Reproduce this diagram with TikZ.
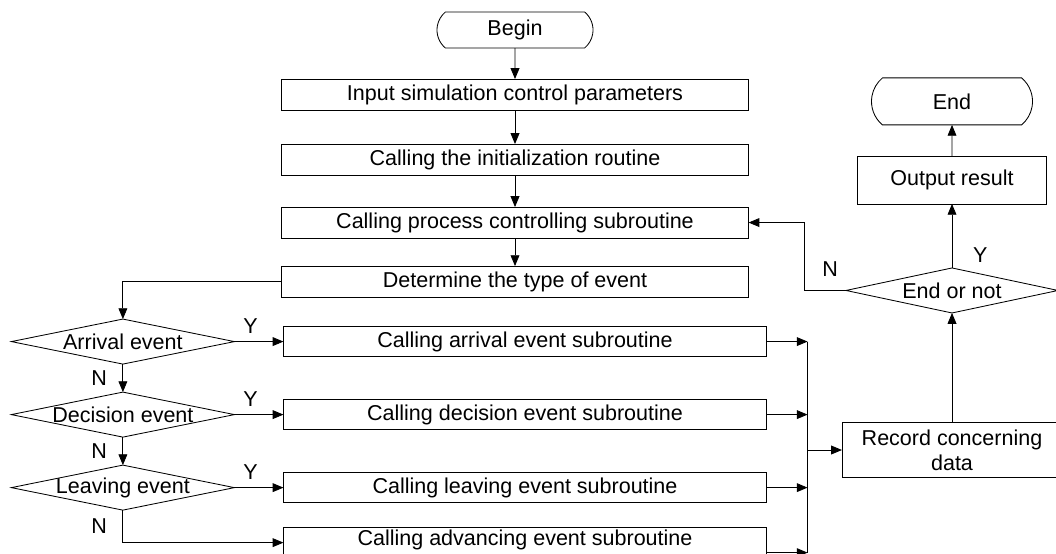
\documentclass[tikz,border=0pt]{standalone}
\usepackage{fontspec}
\setmainfont{Liberation Sans}
\usetikzlibrary{positioning,shapes.geometric,shapes.misc,arrows.meta}

\tikzset{
  every node/.append style={outer sep=0pt},
  term/.style={rounded rectangle, rounded rectangle arc length=100, draw,
    minimum width=3.9cm, minimum height=0.9cm, inner sep=0pt},
  proc/.style={rectangle, draw, minimum width=11.675cm, minimum height=0.775cm, inner sep=0pt},
  sub/.style={rectangle, draw, minimum width=12.075cm, minimum height=0.75cm, inner sep=0pt},
  decide/.style={diamond, draw, minimum width=5.575cm, minimum height=1.125cm, inner sep=0pt},
  arr/.style={-{Triangle[length=0.27cm,width=0.22cm]}},
  yn/.style={inner sep=0.1cm},
}

\begin{document}
\begin{tikzpicture}[x=0.025cm,y=-0.025cm,line width=0.6pt,
  font=\fontsize{15.3pt}{18pt}\selectfont]
  \useasboundingbox (0,0) rectangle (1056,553);

  % Main chain
  \node[term]                      (begin)     at (515,30) {Begin} ;
  \node[proc, below=0.775cm of begin]  (input)     {Input simulation control parameters} ;
  \node[proc, below=0.85cm of input]   (init)      {Calling the initialization routine} ;
  \node[proc, below=0.8cm of init]     (process)   {Calling process controlling subroutine} ;
  \node[proc, below=0.7cm of process]  (determine) {Determine the type of event} ;

  % Event type tests
  \node[decide, below=0.55cm of determine, xshift=-9.8cm] (arrival)  {\makebox[0pt]{Arrival event}} ;
  \node[decide, below=0.7cm of arrival]                  (decision) {\makebox[0pt]{Decision event}} ;
  \node[decide, below=0.7cm of decision]                 (leaving)  {\makebox[0pt]{Leaving event}} ;

  % Subroutines
  \node[sub, right=1.225cm of arrival]  (arrsub) {Calling arrival event subroutine} ;
  \node[sub, right=1.225cm of decision] (decsub) {Calling decision event subroutine} ;
  \node[sub, right=1.225cm of leaving]  (leasub) {Calling leaving event subroutine} ;
  \node[sub, text height=0.45cm, text depth=0.3cm, below=0.625cm of leasub] (advsub) {Calling advancing event subroutine} ;
  \coordinate[right=1.025cm of arrsub.east] (bus) ;
  \coordinate[yshift=-0.25cm] (advout) at (advsub.east) ;

  % Right column
  \node[draw, minimum width=5.5cm, minimum height=1.375cm, inner sep=0pt, align=center]
    (record) at (952,450) {Record concerning\\data} ;
  \node[decide, minimum width=5.3cm, above=2.7375cm of record] (endornot) {\makebox[0pt]{End or not}} ;
  \node[draw, minimum width=4.725cm, minimum height=1.2cm, inner sep=0pt, above=1.6cm of endornot]
    (output) {Output result} ;
  \node[term, minimum width=4.025cm, minimum height=1.175cm, above=0.775cm of output] (end) {End} ;

  % Connect the nodes
  \draw[arr] (begin) -- (input) ;
  \draw[arr] (input) -- (init) ;
  \draw[arr] (init) -- (process) ;
  \draw[arr] (process) -- (determine) ;
  \draw[arr] (determine.west) -| (arrival.north) ;

  \draw[arr] (arrival) -- node[yn, above=0.1cm, pos=0.33] {Y} (arrsub) ;
  \draw[arr] (decision) -- node[yn, above=0.1cm, pos=0.33] {Y} (decsub) ;
  \draw[arr] (leaving) -- node[yn, above=0.1cm, pos=0.33] {Y} (leasub) ;
  \draw[arr] (arrival) -- node[yn, left=0.3cm] {N} (decision) ;
  \draw[arr] (decision) -- node[yn, left=0.3cm] {N} (leaving) ;
  \draw[arr] (leaving.south) |- node[yn, left=0.3cm, pos=0.25] {N} (advsub.west) ;

  \draw[arr] (arrsub) -- (bus) ;
  \draw[arr] (decsub) -- (decsub -| bus) ;
  \draw[arr] (leasub) -- (leasub -| bus) ;
  \draw[arr] (advout) -- (advout -| bus) ;
  \draw (bus) -- (advout -| bus) ;
  \draw[arr] (bus |- record.west) -- (record.west) ;

  \draw[arr] (record) -- (endornot) ;
  \draw[arr] (endornot) -- node[yn, right=0.425cm, pos=0.2] {Y} (output) ;
  \draw[arr] (output) -- (end) ;
  \draw[arr] (endornot.west) -- node[yn, above=0.25cm, pos=0.38] {N} ++(-1.05cm,0) |- (process.east) ;
\end{tikzpicture}
\end{document}
